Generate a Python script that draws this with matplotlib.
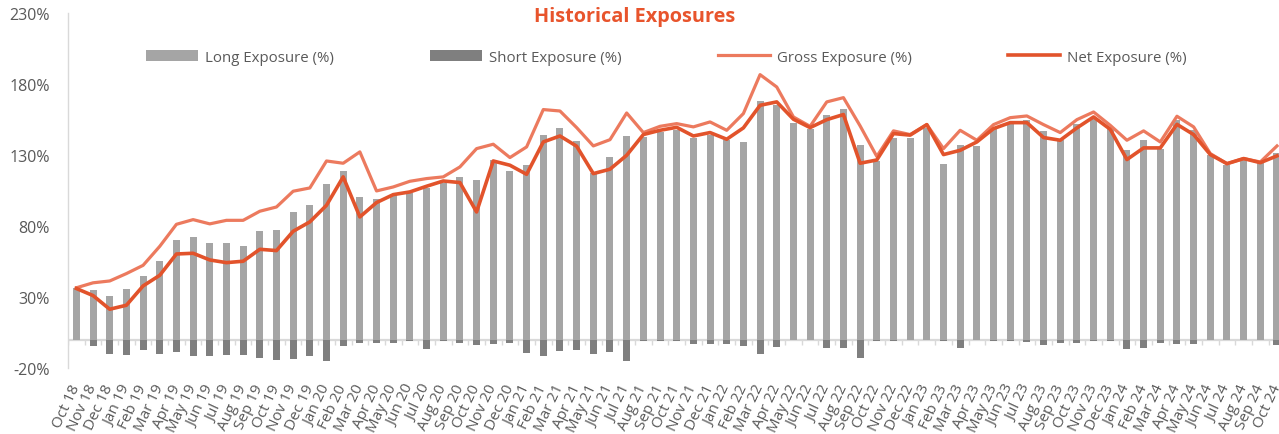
import numpy as np
import pandas as pd
import matplotlib
matplotlib.use("Agg")
import matplotlib.pyplot as plt

plt.rcParams["font.family"] = ["Open Sans", "DejaVu Sans"]

months = pd.date_range("2018-10-01", "2024-10-01", freq="MS").strftime("%b %y").tolist()

long_exp = [
    36.0, 35.2, 30.8, 35.4, 44.8, 55.4, 69.9, 72.0, 68.3, 68.1, 65.7, 76.5,
    77.2, 89.9, 94.6, 109.9, 118.8, 100.7, 99.1, 101.6, 103.5, 106.8, 110.6, 114.6,
    112.2, 126.3, 118.8, 123.2, 144.4, 149.3, 139.9, 117.6, 128.6, 143.7, 142.7, 146.2,
    147.9, 142.0, 144.4, 140.8, 139.2, 167.8, 165.5, 152.6, 148.6, 158.5, 162.7, 136.8,
    125.6, 142.0, 142.3, 149.3, 123.9, 137.3, 136.6, 148.6, 152.1, 154.5, 146.7, 140.4,
    152.0, 156.1, 148.1, 133.3, 140.8, 134.5, 154.5, 147.4, 129.8, 123.2, 126.3, 124.6,
    131.5,
]
short_exp = [
    0.0, -4.4, -10.1, -10.8, -7.0, -10.1, -9.0, -11.2, -11.2, -10.6, -10.7, -13.1,
    -14.7, -13.5, -11.7, -15.3, -4.6, -2.6, -2.7, -2.3, -1.3, -6.5, -1.3, -2.4,
    -3.5, -3.0, -2.6, -9.3, -11.4, -8.3, -7.0, -10.0, -9.0, -15.3, -1.1, -1.3,
    -1.0, -3.3, -3.3, -2.8, -4.6, -10.3, -5.1, 0.0, 0.0, -6.1, -6.2, -13.0,
    -1.3, -1.2, 0.0, 0.0, -1.3, -6.0, 0.0, -0.8, -1.3, -1.9, -4.1, -2.5,
    -2.7, -1.3, -1.3, -6.8, -6.1, -2.2, -2.9, -2.9, 0.0, 0.0, 0.0, 0.0,
    -3.8,
]
gross_exp = [
    36.5, 40.0, 41.3, 46.5, 52.3, 65.7, 81.2, 84.5, 81.5, 84.0, 84.0, 90.4,
    93.4, 104.5, 106.8, 125.8, 124.2, 132.2, 104.7, 107.5, 111.5, 113.4, 114.6, 121.6,
    134.5, 137.6, 128.2, 135.7, 162.0, 161.0, 149.3, 136.4, 140.8, 159.6, 145.8, 150.2,
    152.1, 149.8, 153.3, 147.4, 159.2, 186.6, 177.9, 156.8, 150.2, 167.4, 170.4, 150.5,
    129.0, 147.0, 144.4, 151.4, 134.5, 147.4, 140.4, 151.4, 156.3, 157.5, 151.4, 145.8,
    154.9, 160.3, 150.9, 140.4, 147.0, 139.2, 157.3, 149.8, 131.0, 123.9, 127.5, 125.1,
    136.4,
]
net_exp = [
    36.0, 31.0, 21.4, 24.2, 37.8, 45.3, 60.3, 60.8, 56.1, 54.2, 55.2, 63.6,
    62.7, 76.3, 82.9, 94.6, 114.6, 86.4, 96.5, 102.1, 104.0, 108.0, 111.7, 110.6,
    89.9, 125.8, 122.8, 116.4, 139.2, 143.4, 136.2, 116.9, 120.0, 129.8, 144.4, 147.4,
    149.5, 143.4, 145.8, 141.1, 149.1, 165.0, 167.4, 155.2, 149.3, 154.9, 158.5, 124.2,
    126.5, 145.1, 144.0, 151.4, 130.3, 133.3, 139.2, 148.6, 152.8, 152.8, 142.3, 140.4,
    149.1, 156.8, 148.1, 126.8, 135.0, 135.0, 151.6, 144.4, 130.3, 123.9, 127.5, 124.6,
    129.4,
]

y_ticks = [-20, 30, 80, 130, 180, 230]

LONG_C = "#A5A5A5"
SHORT_C = "#7F7F7F"
GROSS_C = "#EC7A5E"
NET_C = "#E2532B"
TEXT_C = "#595959"
AXIS_C = "#D9D9D9"

x = np.arange(len(months))

fig = plt.figure(figsize=(12.79, 4.35), dpi=100)
ax = fig.add_axes([0.0532, 0.1517, 0.9468, 0.8161])

ax.axhline(0, color=AXIS_C, lw=1.6, zorder=1)
ax.vlines(np.arange(len(months) + 1) - 0.5, -4, 0, color=AXIS_C, lw=1, zorder=1)

b_long = ax.bar(x, long_exp, width=0.42, color=LONG_C, label="Long Exposure (%)", zorder=2)
b_short = ax.bar(x, short_exp, width=0.42, color=SHORT_C, label="Short Exposure (%)", zorder=2)
l_gross, = ax.plot(x, gross_exp, color=GROSS_C, lw=2.3, label="Gross Exposure (%)", zorder=3)
l_net, = ax.plot(x, net_exp, color=NET_C, lw=2.6, label="Net Exposure (%)", zorder=4)

ax.set_xlim(-0.5, 72.12)
ax.set_ylim(-20, 230)
ax.set_yticks(y_ticks)
ax.set_yticklabels([f"{v}%" for v in y_ticks])
ax.set_xticks(x)
ax.set_xticklabels(months, rotation=65, ha="right", va="center", rotation_mode="anchor")

ax.tick_params(axis="y", length=0, pad=13, labelsize=11.5, labelcolor=TEXT_C)
ax.tick_params(axis="x", length=0, pad=12, labelsize=11, labelcolor=TEXT_C)

for side in ["top", "right", "bottom"]:
    ax.spines[side].set_visible(False)
ax.spines["left"].set_color(AXIS_C)
ax.spines["left"].set_linewidth(1.0)

ax.legend(
    handles=[b_long, b_short, l_gross, l_net],
    loc="center",
    bbox_to_anchor=(0.494, 1 - (58 - 14) / 355),
    ncol=4,
    frameon=False,
    fontsize=10.8,
    labelcolor=TEXT_C,
    handlelength=3.5,
    handletextpad=0.45,
    columnspacing=6.4,
)

fig.text(0.496, 0.961, "Historical Exposures", ha="center", va="center",
         fontsize=14.3, fontweight="bold", color="#E8542C")

fig.savefig("out.png", dpi=100)
